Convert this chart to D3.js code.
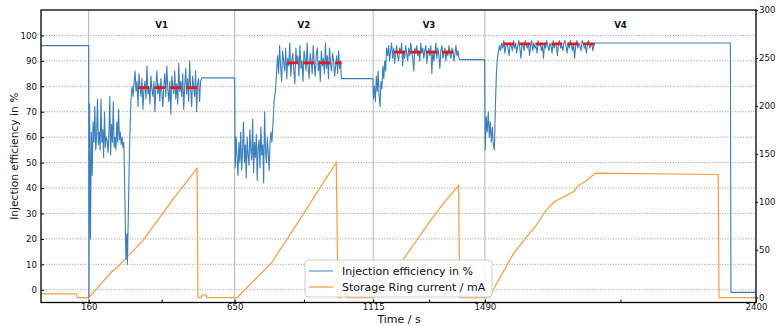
<!DOCTYPE html>
<html>
<head>
<meta charset="utf-8">
<script src="https://cdn.jsdelivr.net/npm/d3@7"></script>
<style>
  html, body { margin: 0; padding: 0; background: #fff; }
  svg { display: block; font-family: "DejaVu Sans", sans-serif; }
</style>
</head>
<body>
<svg id="chart" width="777" height="326"></svg>
<script>
// ---- axis ticks and phase markers ----
const timeTicks = [160, 650, 1115, 1490, 2400];
const timeMinorTicks = [405, 882.5, 1302.5, 1945];
const effTicks = [0, 10, 20, 30, 40, 50, 60, 70, 80, 90, 100];
const currentTicks = [0, 50, 100, 150, 200, 250, 300];
const phaseBounds = [160, 650, 1115, 1490, 2400];
const phaseLabels = ["V1", "V2", "V3", "V4"];

// ---- injection efficiency (%) ----
const effLead = [[0, 96], [160, 96], [161, -3]];
const v1Low = [73, 20, 62, 45, 66, 58, 72, 55, 60, 75, 57, 62, 55, 75, 58, 63, 52, 70, 56, 60,
  59, 54, 60, 76, 53, 65, 58, 74, 56, 60, 55, 66, 58, 71, 59, 62, 57, 60, 56, 58];
const v1Dip = [[281, 40], [285, 12], [288, 22], [290, 10], [297, 55], [302, 75], [306, 80]];
const v1High = [76, 81, 86, 78, 82, 72, 85, 80, 76, 83, 71, 79, 82, 75, 88, 77, 80, 73, 84, 79,
  76, 82, 70, 80, 86, 77, 81, 74, 83, 78, 72, 80, 85, 76, 88, 79, 74, 82, 69, 84,
  80, 77, 86, 75, 81, 73, 89, 78, 82, 76, 85, 71, 80, 87, 77, 83, 74, 90, 79, 72,
  84, 80, 76, 86, 70, 81, 83, 74, 82, 83];
const v1Plateau = [[541, 83.3], [650, 83.3]];
const v2Low = [48, 60, 52, 45, 58, 50, 62, 47, 55, 66, 50, 57, 44, 60, 53, 49, 63, 55, 51, 67,
  46, 58, 52, 61, 43, 56, 59, 48, 64, 53, 57, 42, 70, 55, 50, 60, 54, 47, 58, 62];
const v2Rise = [[775, 58], [779, 66], [783, 75], [787, 78], [791, 86]];
const v2High = [92, 85, 96, 88, 82, 94, 90, 86, 95, 83, 91, 88, 97, 84, 90, 93, 86, 81, 95, 89,
  92, 84, 96, 87, 90, 82, 94, 91, 86, 97, 88, 83, 93, 90, 85, 96, 89, 84, 92, 95,
  86, 90, 82, 94, 88, 91, 85, 97, 87, 92, 83, 95, 89, 86, 93, 90, 84, 88, 92, 85,
  94, 87, 90];
const v2Plateau = [[1008, 83], [1114, 83]];
const v3Low = [75, 80, 74, 84, 78, 86, 76, 72, 82, 79, 88, 83, 90, 86];
const v3High = [95, 92, 96, 90, 94, 97, 91, 95, 89, 93, 96, 92, 90, 95, 93, 97, 88, 94, 91, 96,
  93, 90, 95, 92, 97, 94, 91, 86, 95, 93, 96, 92, 94, 90, 97, 93, 95, 91, 94, 96,
  89, 93, 95, 92, 96, 85, 94, 90, 93, 97, 91, 95, 92, 87, 94, 96, 91, 93, 95, 90,
  94, 92, 96, 93, 91, 95, 94, 90, 93, 96, 92, 94, 91];
const v3Plateau = [[1405, 90.5], [1489, 90.5]];
const v4Low = [55, 68, 62, 70, 60, 66, 58, 64, 57, 55, 72, 85, 91];
const v4High = [96, 94, 97, 95, 98, 93, 96, 97, 95, 92, 97, 96, 94, 98, 95, 97, 93, 96, 98, 95,
  91, 97, 96, 94, 98, 96, 95, 97, 92, 96, 98, 94, 97, 95, 96, 93, 98, 96, 97, 94,
  96, 91, 97, 95, 98, 96, 94, 97, 96, 93, 98, 95, 97, 96, 92, 97, 98, 95, 96, 94,
  97, 98, 96, 93, 97, 95, 98, 96, 94, 97, 91, 96, 98, 95, 97, 96, 94, 98, 97, 95,
  96, 93, 97, 98, 95, 96, 97, 94, 96];
const effTail = [[1858, 97], [2314, 97], [2316, -1], [2400, -1]];

// ---- phase mean efficiency (%) ----
const meanLevels = [79.5, 89.2, 93.4, 96.7];
const meanFrom = [326, 826, 1185, 1552];
const meanTo = [525, 1009, 1384, 1858];

// ---- storage ring current (mA) ----
const ringCurrent = [[0, 4], [118, 4], [122, 0], [160, 0], [237, 27], [254, 31], [288, 42], [300, 46],
  [343, 60], [444, 103], [524, 135], [527, 0], [538, 0], [541, 3], [554, 3], [557, 0],
  [658, 0], [773, 36], [874, 84], [991, 141], [997, 0], [1006, 0], [1009, 3.8], [1022, 3.8],
  [1025, 0], [1114, 0], [1203, 34], [1304, 79], [1360, 102], [1402, 117], [1405, 0],
  [1503, 0], [1539, 20], [1586, 46], [1634, 65], [1659, 74], [1695, 91], [1723, 100],
  [1790, 111], [1804, 117], [1831, 122], [1861, 130], [2273, 128.5], [2276, 0], [2400, 0]];

// samples logged at a steady rate between two times
function sampled(t0, t1, values) {
  const n = values.length - 1;
  return values.map((v, i) => [t0 + (t1 - t0) * i / n, v]);
}

const efficiency = [].concat(
  effLead,
  sampled(163, 278, v1Low), v1Dip, sampled(309, 539, v1High), v1Plateau,
  sampled(652, 772, v2Low), v2Rise, sampled(794, 1006, v2High), v2Plateau,
  sampled(1116, 1157, v3Low), sampled(1160, 1403, v3High), v3Plateau,
  sampled(1491, 1532, v4Low), sampled(1539, 1856, v4High), effTail
);

// ---- layout ----
const plotLeft = 41, plotRight = 756, plotTop = 10, plotBottom = 302.5;
const svg = d3.select("#chart");

const x = d3.scaleLinear().domain([0, 2400]).range([plotLeft, plotRight]);
const yEff = d3.scaleLinear().domain([-5, 110]).range([plotBottom, plotTop]);
const yCur = d3.scaleLinear().domain([-5, 300]).range([plotBottom, plotTop]);

// horizontal dotted grid
svg.append("g").selectAll("line").data(effTicks).join("line")
  .attr("x1", plotLeft).attr("x2", plotRight)
  .attr("y1", d => yEff(d)).attr("y2", d => yEff(d))
  .attr("stroke", "#9a9a9a").attr("stroke-width", 1)
  .attr("stroke-dasharray", "1,1.6");

// phase separators
svg.append("g").selectAll("line").data(phaseBounds.slice(0, 4)).join("line")
  .attr("x1", d => x(d)).attr("x2", d => x(d))
  .attr("y1", plotTop).attr("y2", plotBottom)
  .attr("stroke", "#b4b4b4").attr("stroke-width", 1);

// phase titles
svg.append("g").selectAll("text").data(phaseLabels).join("text")
  .attr("x", (d, i) => x((phaseBounds[i] + phaseBounds[i + 1]) / 2))
  .attr("y", 28)
  .attr("text-anchor", "middle")
  .attr("font-size", 8.6).attr("font-weight", "bold").attr("fill", "#111")
  .text(d => d);

// series
const effLine = d3.line().x(d => x(d[0])).y(d => yEff(d[1]));
const curLine = d3.line().x(d => x(d[0])).y(d => yCur(d[1]));

svg.append("path").datum(ringCurrent)
  .attr("d", curLine)
  .attr("fill", "none").attr("stroke", "#ff9a3c").attr("stroke-width", 1.2);

svg.append("path").datum(efficiency)
  .attr("d", effLine)
  .attr("fill", "none").attr("stroke", "#3b7fbd").attr("stroke-width", 1.1)
  .attr("stroke-linejoin", "round");

// phase means
svg.append("g").selectAll("line").data(meanLevels).join("line")
  .attr("x1", (d, i) => x(meanFrom[i])).attr("x2", (d, i) => x(meanTo[i]))
  .attr("y1", d => yEff(d)).attr("y2", d => yEff(d))
  .attr("stroke", "#e3191c").attr("stroke-width", 2.8)
  .attr("stroke-dasharray", "11,5");

// axes
const fontSize = 8.6;
const plain = d3.format("d");
const gLeft = svg.append("g").attr("transform", `translate(${plotLeft},0)`)
  .call(d3.axisLeft(yEff).tickValues(effTicks).tickFormat(plain).tickSizeInner(-3).tickSizeOuter(0).tickPadding(4));
const gRight = svg.append("g").attr("transform", `translate(${plotRight},0)`)
  .call(d3.axisRight(yCur).tickValues(currentTicks).tickFormat(plain).tickSizeInner(2).tickSizeOuter(0).tickPadding(1));
const gBottom = svg.append("g").attr("transform", `translate(0,${plotBottom})`)
  .call(d3.axisBottom(x).tickValues(timeTicks).tickFormat(plain).tickSizeInner(-3).tickSizeOuter(0).tickPadding(1.5));
const gMinor = svg.append("g").attr("transform", `translate(0,${plotBottom})`)
  .call(d3.axisBottom(x).tickValues(timeMinorTicks).tickFormat("").tickSizeInner(-3).tickSizeOuter(0));

[gLeft, gRight, gBottom, gMinor].forEach(g => {
  g.select(".domain").remove();
  g.selectAll("text").attr("font-size", fontSize).attr("font-family", "DejaVu Sans, sans-serif").attr("fill", "#111");
  g.selectAll("line").attr("stroke", "#000");
});

// frame
svg.append("rect")
  .attr("x", plotLeft).attr("y", plotTop)
  .attr("width", plotRight - plotLeft).attr("height", plotBottom - plotTop)
  .attr("fill", "none").attr("stroke", "#000").attr("stroke-width", 1.3);

// axis titles
svg.append("text")
  .attr("transform", `translate(18,${(plotTop + plotBottom) / 2}) rotate(-90)`)
  .attr("text-anchor", "middle")
  .attr("font-size", 10.7).attr("fill", "#111")
  .text("Injection efficiency in %");

svg.append("text")
  .attr("x", x(1202)).attr("y", 323)
  .attr("text-anchor", "middle")
  .attr("font-size", 11).attr("fill", "#111")
  .text("Time / s");

// legend
const legendItems = ["Injection efficiency in %", "Storage Ring current / mA"];
const legendColors = ["#7fb1de", "#ffb06a"];
const lg = svg.append("g").attr("transform", "translate(305,260)");
lg.append("rect")
  .attr("width", 187).attr("height", 37).attr("rx", 3)
  .attr("fill", "#fff").attr("fill-opacity", 0.85)
  .attr("stroke", "#cccccc").attr("stroke-width", 1);
const li = lg.selectAll("g.item").data(legendItems).join("g")
  .attr("transform", (d, i) => `translate(0,${11 + i * 16})`);
li.append("line")
  .attr("x1", 4).attr("x2", 28)
  .attr("stroke", (d, i) => legendColors[i]).attr("stroke-width", 1.6);
li.append("text")
  .attr("x", 37).attr("y", 4)
  .attr("font-size", 11).attr("fill", "#111")
  .text(d => d);
</script>
</body>
</html>
